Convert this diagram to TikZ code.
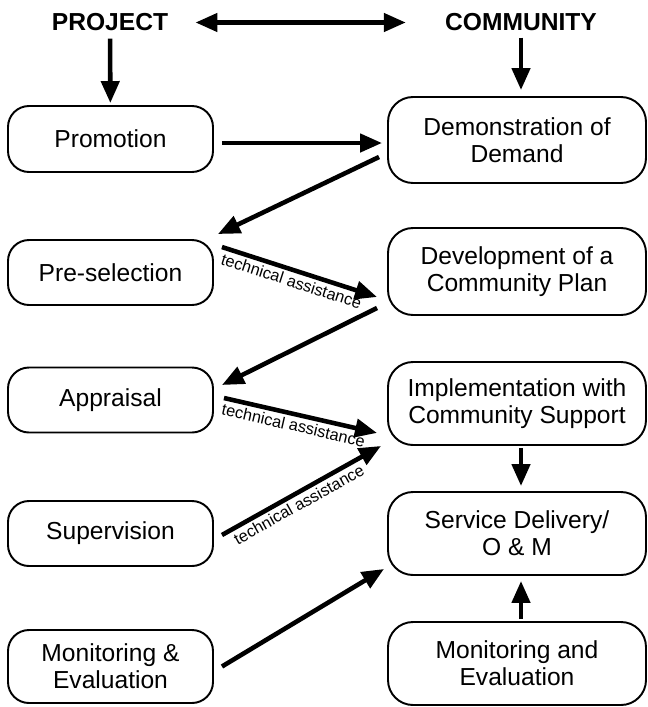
\documentclass[tikz,border=0pt]{standalone}
\usepackage{fontspec}
\setmainfont{Liberation Sans}
\usetikzlibrary{arrows.meta}

\begin{document}
\begin{tikzpicture}[
        box/.style={draw,line width=1.1pt,align=center,
            font=\fontsize{14}{15.5}\selectfont,inner sep=0pt},
        lbox/.style={box,rounded corners=0.42cm,minimum width=4.1cm,minimum height=1.3cm},
        rbox/.style={box,rounded corners=0.5cm,minimum width=5.16cm,minimum height=1.66cm},
        head/.style={font=\fontsize{14}{16}\selectfont\bfseries,inner sep=2pt},
        arr/.style={line width=2.6pt,-{Triangle[length=0.44cm,width=0.36cm]}},
        ta/.style={font=\fontsize{9.3}{11}\selectfont,sloped,inner sep=1.5pt}]
\useasboundingbox (0,0) rectangle (12.96,-14.14);

% headings
\node[head] (project) at (2.2,-0.45) {PROJECT};
\node[head] (community) at (10.42,-0.45) {COMMUNITY};
\draw[line width=2.6pt,{Triangle[length=0.44cm,width=0.36cm]}-{Triangle[length=0.44cm,width=0.36cm]},
    shorten <=0.47cm,shorten >=0.71cm] (project) -- (community);

% project side
\node[lbox,minimum height=1.32cm] (promo) at (2.21,-2.78) {Promotion};
\node[lbox] (presel) at (2.21,-5.45) {Pre-selection};
\node[lbox] (apprais) at (2.21,-8.0) {Appraisal};
\node[lbox] (superv) at (2.21,-10.67) {Supervision};
\node[lbox,minimum height=1.46cm] (monleft) at (2.21,-13.33) {Monitoring \&\\Evaluation};

% community side
\node[rbox,minimum height=1.72cm] (demo) at (10.34,-2.8) {Demonstration of\\Demand};
\node[rbox,minimum height=1.74cm] (devplan) at (10.34,-5.43) {Development of a\\Community Plan};
\node[rbox] (implem) at (10.34,-8.07) {Implementation with\\Community Support};
\node[rbox] (service) at (10.34,-10.67) {Service Delivery/\\O \& M};
\node[rbox] (monright) at (10.34,-13.27) {Monitoring and\\Evaluation};

% vertical arrows
\draw[arr,shorten <=0.07cm,shorten >=0.04cm] (project) -- (promo);
\draw[arr,shorten <=0.05cm,shorten >=0.12cm] (community) -- (community |- demo.north);
\draw[arr,shorten <=0.04cm,shorten >=0.1cm] ([xshift=0.08cm]implem.south) -- ([xshift=0.08cm]service.north);
\draw[arr,shorten <=0.04cm,shorten >=0.1cm] ([xshift=0.08cm]monright.north) -- ([xshift=0.08cm]service.south);

% across the columns
\draw[arr] ([xshift=0.16cm,yshift=-0.08cm]promo.east) -- ([xshift=-0.1cm,yshift=-0.06cm]demo.west);
\draw[arr] ([xshift=-0.16cm,yshift=-0.34cm]demo.west) -- ([xshift=0.08cm,yshift=0.1cm]presel.north east);
\draw[arr] ([xshift=0.16cm,yshift=-0.16cm]presel.north east) -- ([xshift=-0.2cm,yshift=-0.51cm]devplan.west)
    node[ta,below,pos=0.47] {technical assistance};
\draw[arr] ([xshift=-0.2cm,yshift=0.16cm]devplan.south west) -- ([xshift=0.16cm,yshift=0.3cm]apprais.east);
\draw[arr] ([xshift=0.2cm,yshift=0.04cm]apprais.east) -- ([xshift=-0.2cm,yshift=0.26cm]implem.south west)
    node[ta,below,pos=0.47] {technical assistance};
\draw[arr] ([xshift=0.16cm,yshift=-0.03cm]superv.east) -- ([xshift=-0.12cm]implem.south west)
    node[ta,below,pos=0.45] {technical assistance};
\draw[arr] ([xshift=0.16cm]monleft.east) -- ([xshift=-0.06cm,yshift=0.14cm]service.south west);

\end{tikzpicture}
\end{document}
